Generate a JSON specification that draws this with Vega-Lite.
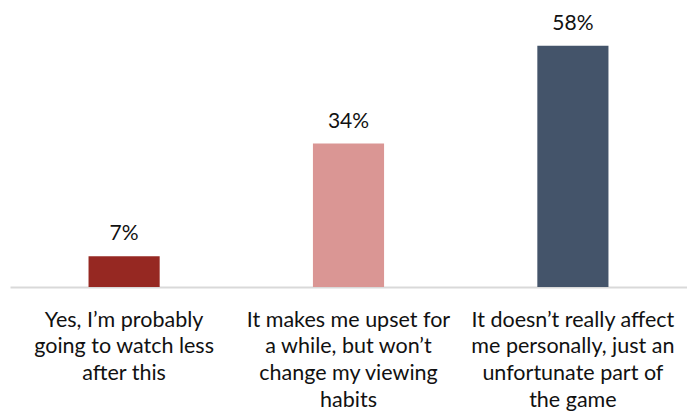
{
  "$schema": "https://vega.github.io/schema/vega-lite/v6.json",
  "width": 677,
  "height": 287,
  "autosize": {"type": "none"},
  "padding": {"left": 10, "top": 0, "right": 0, "bottom": 129},
  "background": "white",
  "config": {"view": {"stroke": null}, "font": "Lato"},
  "data": {"values": [
    {"category": "Yes, I’m probably|going to watch less|after this", "value": 7.4, "label": "7%", "order": 1, "color": "#962822"},
    {"category": "It makes me upset for|a while, but won’t|change my viewing|habits", "value": 34.5, "label": "34%", "order": 2, "color": "#DA9694"},
    {"category": "It doesn’t really affect|me personally, just an|unfortunate part of|the game", "value": 58, "label": "58%", "order": 3, "color": "#44546A"}
  ]},
  "encoding": {
    "x": {
      "field": "category", "type": "nominal", "sort": {"field": "order"},
      "scale": {"paddingInner": 0.683, "paddingOuter": 0.35},
      "axis": {
        "title": null, "ticks": false, "domainColor": "#D9D9D9", "domainWidth": 2,
        "labelAngle": 0, "labelExpr": "split(datum.label, '|')", "labelFontSize": 21.5,
        "labelColor": "#111111", "labelLineHeight": 26.7, "labelBaseline": "top",
        "labelPadding": 22, "labelOverlap": false, "labelLimit": 400, "labelFont": "Lato"
      }
    },
    "y": {"field": "value", "type": "quantitative", "scale": {"domain": [0, 69], "nice": false}, "axis": null}
  },
  "layer": [
    {"mark": {"type": "bar"}, "encoding": {"color": {"field": "color", "type": "nominal", "scale": null}}},
    {"mark": {"type": "text", "baseline": "alphabetic", "dy": -16, "fontSize": 21, "color": "#111111", "font": "Lato"}, "encoding": {"text": {"field": "label"}}}
  ]
}
